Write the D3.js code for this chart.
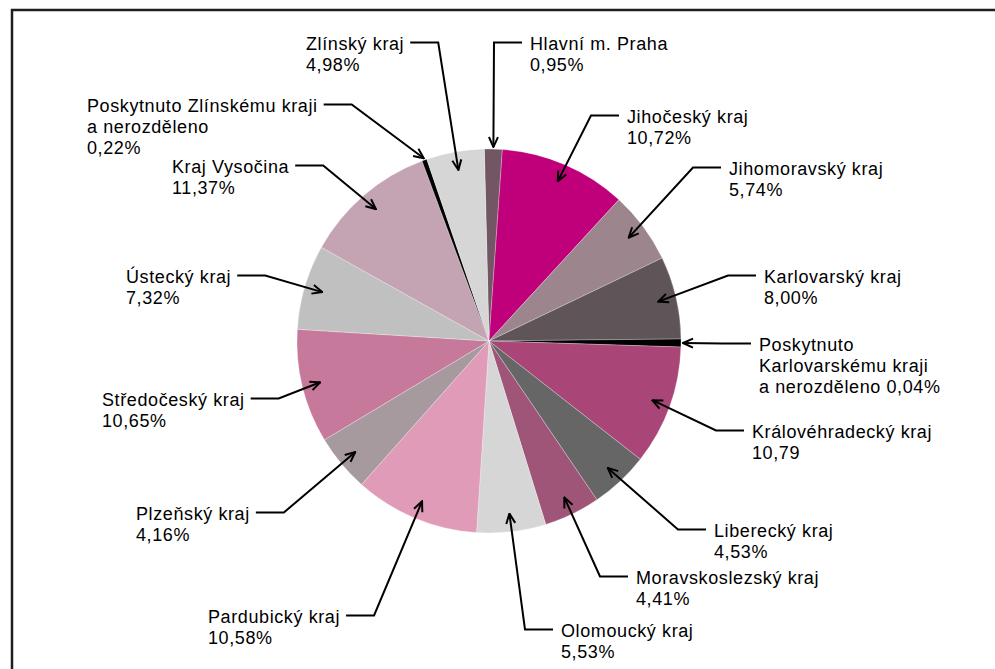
<!DOCTYPE html>
<html>
<head>
<meta charset="utf-8">
<script src="https://cdnjs.cloudflare.com/ajax/libs/d3/7.8.5/d3.min.js"></script>
<style>
    body { margin: 0; background: #fff; }
    .lbl { font-family: "Liberation Sans", Arial, sans-serif; font-size: 18px; letter-spacing: 0.6px; fill: #000; }
    .leader { fill: none; stroke: #000; stroke-width: 2; }
</style>
</head>
<body>
<div id="chart"></div>
<script>
// regions, clockwise from 12 o'clock
var regions = [
    "Hlavní m. Praha", "Jihočeský kraj", "Jihomoravský kraj", "Karlovarský kraj",
    "Poskytnuto\nKarlovarskému kraji\na nerozděleno", "Královéhradecký kraj", "Liberecký kraj",
    "Moravskoslezský kraj", "Olomoucký kraj", "Pardubický kraj", "Plzeňský kraj",
    "Středočeský kraj", "Ústecký kraj", "Kraj Vysočina",
    "Poskytnuto Zlínskému kraji\na nerozděleno", "Zlínský kraj"
];

// value labels as printed in the chart
var percentLabels = [
    "0,95%", "10,72%", "5,74%", "8,00%", "0,04%", "10,79", "4,53%", "4,41%",
    "5,53%", "10,58%", "4,16%", "10,65%", "7,32%", "11,37%", "0,22%", "4,98%"
];

// slice sizes (%) as drawn
var shares = [
    1.50, 10.72, 6.06, 6.94, 0.67, 10.06, 4.94, 4.72,
    5.81, 10.53, 4.83, 9.58, 7.14, 11.22, 0.42, 4.86
];

var colours = [
    "#735663", "#c0007a", "#9d858e", "#5f5458", "#000000", "#a94677", "#666666", "#9e5578",
    "#d6d6d6", "#e09bb8", "#a69a9e", "#c7799b", "#c0c0c0", "#c4a3b3", "#000000", "#d6d6d6"
];

// label placement: text start x, first baseline y, which side of the pie
var labelPos = [
    [530, 50, "right"], [627, 123, "right"], [729, 175, "right"], [764, 283, "right"],
    [759, 351, "right"], [752, 438, "right"], [714, 537, "right"], [636, 584, "right"],
    [561, 637, "right"], [208, 623, "left"], [136, 520, "left"], [102, 406, "left"],
    [126, 283, "left"], [172, 173, "left"], [87, 112, "left"], [306, 50, "left"]
];

var width = 995,
    height = 669;

var cx = 489,
    cy = 341,
    radius = 192,
    startDeg = -1.4;

var lineHeight = 20.8;

var svg = d3.select("#chart").append("svg")
    .attr("width", width)
    .attr("height", height);

// frame (only top and left edges fall inside the picture)
svg.append("rect")
    .attr("x", 12)
    .attr("y", 10)
    .attr("width", 1200)
    .attr("height", 900)
    .attr("fill", "none")
    .attr("stroke", "#1e1e1e")
    .attr("stroke-width", 2.5);

svg.append("defs").append("marker")
    .attr("id", "arrow")
    .attr("viewBox", "0 -6 12 12")
    .attr("refX", 11)
    .attr("refY", 0)
    .attr("markerWidth", 12)
    .attr("markerHeight", 12)
    .attr("markerUnits", "userSpaceOnUse")
    .attr("orient", "auto")
    .append("path")
    .attr("d", "M1,-4.5L11,0L1,4.5")
    .attr("fill", "none")
    .attr("stroke", "#000")
    .attr("stroke-width", 2);

var data = regions.map(function(name, i) {
    return {
        name: name,
        label: percentLabels[i],
        share: shares[i],
        colour: colours[i],
        pos: labelPos[i]
    };
});

var pie = d3.pie()
    .sort(null)
    .value(function(d) {
        return d.share;
    })
    .startAngle(startDeg * Math.PI / 180)
    .endAngle(2 * Math.PI + startDeg * Math.PI / 180);

var arcs = pie(data);

var arc = d3.arc()
    .innerRadius(0)
    .outerRadius(radius);

var g = svg.append("g")
    .attr("transform", "translate(" + cx + "," + cy + ")");

g.selectAll(".slice")
    .data(arcs)
    .enter().append("path")
    .attr("class", "slice")
    .attr("d", arc)
    .attr("fill", function(d) {
        return d.data.colour;
    })
    .attr("stroke", "#ffffff")
    .attr("stroke-opacity", 0.45)
    .attr("stroke-width", 0.6);

// labels
var labels = svg.append("g");

arcs.forEach(function(d) {
    var p = d.data.pos;
    var lines = d.data.name.split("\n");
    // the Karlovarsky extra line keeps the value on its last line
    if (lines.length === 3) {
        lines[2] = lines[2] + " " + d.data.label;
    } else {
        lines.push(d.data.label);
    }

    var text = labels.append("text")
        .attr("class", "lbl")
        .attr("x", p[0])
        .attr("y", p[1]);

    text.selectAll("tspan")
        .data(lines)
        .enter().append("tspan")
        .attr("x", p[0])
        .attr("dy", function(t, i) {
            return i === 0 ? 0 : lineHeight;
        })
        .text(function(t) {
            return t;
        });

    var firstWidth = text.select("tspan").node().getComputedTextLength();
    var ly = p[1] - 7.5;
    var x0, x1;
    if (p[2] === "right") {
        x0 = p[0] - 8;
        x1 = x0 - 28;
    } else {
        x0 = p[0] + firstWidth + 6;
        x1 = x0 + 28;
    }

    // arrow tip: small slices at the rim, the others inside
    var a = (d.startAngle + d.endAngle) / 2;
    var r = d.data.share < 2 ? radius + 2 : radius * 0.905;
    var tx = cx + Math.sin(a) * r,
        ty = cy - Math.cos(a) * r;

    labels.append("path")
        .attr("class", "leader")
        .attr("d", d3.line()([[x0, ly], [x1, ly], [tx, ty]]))
        .attr("marker-end", "url(#arrow)");
});
</script>
</body>
</html>
